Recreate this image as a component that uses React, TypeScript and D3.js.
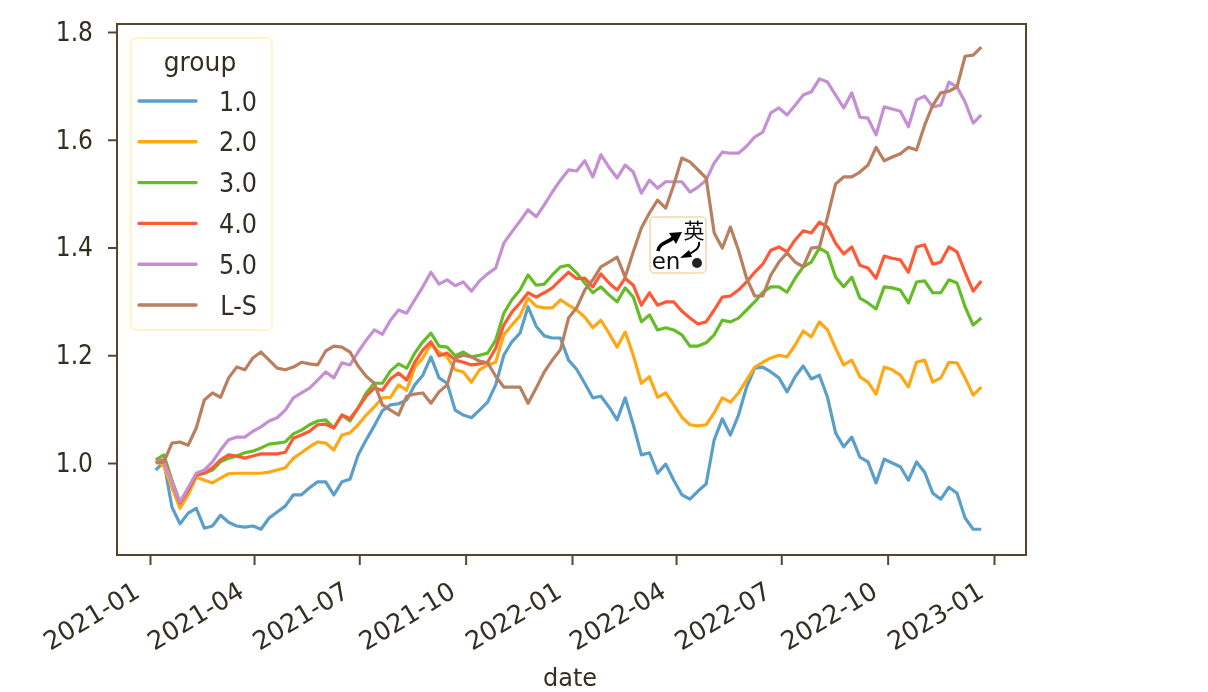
import * as d3 from "d3";
import React, { useEffect, useRef } from "react";

const group1 = [
  0.987, 1.002, 0.918, 0.887, 0.907, 0.916, 0.879, 0.883, 0.903, 0.89,
  0.883, 0.881, 0.883, 0.877, 0.898, 0.909, 0.92, 0.941, 0.941, 0.954,
  0.965, 0.965, 0.941, 0.965, 0.97, 1.015, 1.043, 1.069, 1.097, 1.108,
  1.11, 1.117, 1.145, 1.163, 1.197, 1.158, 1.148, 1.098, 1.089, 1.084,
  1.098, 1.113, 1.145, 1.2, 1.225, 1.241, 1.29, 1.254, 1.236, 1.232,
  1.232, 1.191, 1.174, 1.148, 1.121, 1.124, 1.104, 1.08, 1.121, 1.071,
  1.015, 1.019, 0.981, 0.998, 0.968, 0.941, 0.933, 0.948, 0.961, 1.043,
  1.082, 1.052, 1.089, 1.141, 1.176, 1.178, 1.169, 1.158, 1.132, 1.16,
  1.18, 1.156, 1.163, 1.122, 1.056, 1.03, 1.048, 1.011, 1.002, 0.963,
  1.007, 1.0, 0.993, 0.968, 1.002, 0.983, 0.944, 0.933, 0.955, 0.944,
  0.898, 0.877, 0.877,
];
const group2 = [
  1.004, 0.994, 0.954, 0.916, 0.941, 0.974, 0.968, 0.963, 0.972, 0.98,
  0.981, 0.981, 0.981, 0.981, 0.983, 0.987, 0.991, 1.009, 1.019, 1.03,
  1.039, 1.037, 1.024, 1.052, 1.056, 1.071, 1.089, 1.104, 1.121, 1.122,
  1.145, 1.135, 1.178, 1.195, 1.221, 1.206, 1.197, 1.173, 1.169, 1.15,
  1.173, 1.182, 1.187, 1.238, 1.256, 1.273, 1.306, 1.291, 1.288, 1.288,
  1.303, 1.293, 1.284, 1.271, 1.251, 1.265, 1.241, 1.215, 1.243, 1.2,
  1.148, 1.16, 1.122, 1.13, 1.108, 1.085, 1.071, 1.069, 1.071, 1.093,
  1.121, 1.113, 1.13, 1.154, 1.178, 1.187, 1.195, 1.2, 1.197, 1.219,
  1.245, 1.234, 1.262, 1.247, 1.213, 1.182, 1.191, 1.16, 1.15, 1.128,
  1.178, 1.173, 1.163, 1.141, 1.187, 1.191, 1.15, 1.158, 1.187, 1.186,
  1.158, 1.126, 1.141,
];
const group3 = [
  1.006, 1.015, 0.968, 0.926, 0.95, 0.978, 0.981, 0.987, 1.002, 1.009,
  1.013, 1.019, 1.022, 1.028, 1.035, 1.037, 1.039, 1.054, 1.061, 1.071,
  1.078, 1.08, 1.065, 1.089, 1.078, 1.102, 1.13, 1.148, 1.148, 1.171,
  1.184, 1.176, 1.204, 1.225, 1.241, 1.217, 1.215, 1.199, 1.206, 1.197,
  1.2, 1.204, 1.228, 1.278, 1.303, 1.321, 1.349, 1.33, 1.332, 1.349,
  1.364, 1.367, 1.353, 1.334, 1.316, 1.327, 1.312, 1.299, 1.325, 1.308,
  1.262, 1.275, 1.247, 1.251, 1.247, 1.238, 1.217, 1.217, 1.223, 1.238,
  1.265, 1.262, 1.269, 1.284, 1.299, 1.317, 1.327, 1.327, 1.317, 1.343,
  1.364, 1.373, 1.399, 1.39, 1.345, 1.327, 1.345, 1.306, 1.297, 1.286,
  1.327, 1.325, 1.321, 1.297, 1.336, 1.338, 1.316, 1.316, 1.34, 1.334,
  1.29, 1.256, 1.269,
];
const group4 = [
  1.002, 1.006, 0.965, 0.926, 0.95, 0.978, 0.981, 0.991, 1.006, 1.015,
  1.013, 1.009, 1.013, 1.017, 1.017, 1.017, 1.02, 1.046, 1.052, 1.059,
  1.071, 1.072, 1.065, 1.089, 1.082, 1.102, 1.124, 1.139, 1.135, 1.156,
  1.167, 1.154, 1.187, 1.21, 1.225, 1.199, 1.204, 1.191, 1.187, 1.182,
  1.184, 1.187, 1.213, 1.256, 1.28, 1.297, 1.316, 1.308, 1.316, 1.325,
  1.34, 1.354, 1.342, 1.343, 1.327, 1.351, 1.334, 1.321, 1.343, 1.33,
  1.293, 1.316, 1.293, 1.299, 1.299, 1.282, 1.269, 1.258, 1.262, 1.284,
  1.308, 1.31, 1.321, 1.336, 1.354, 1.369, 1.395, 1.401, 1.392, 1.414,
  1.431, 1.427, 1.447, 1.438, 1.408, 1.388, 1.401, 1.367, 1.362, 1.343,
  1.384, 1.38, 1.377, 1.354, 1.401, 1.405, 1.369, 1.373, 1.401, 1.392,
  1.354, 1.319, 1.338,
];
const group5 = [
  1.002, 1.002, 0.965, 0.928, 0.954, 0.981, 0.987, 1.002, 1.024, 1.043,
  1.048, 1.048, 1.059, 1.067, 1.078, 1.084, 1.098, 1.121, 1.13, 1.139,
  1.154, 1.169, 1.158, 1.186, 1.182, 1.206, 1.228, 1.247, 1.239, 1.265,
  1.284, 1.278, 1.303, 1.327, 1.354, 1.332, 1.34, 1.329, 1.336, 1.319,
  1.338, 1.351, 1.362, 1.408, 1.429, 1.449, 1.47, 1.457, 1.479, 1.503,
  1.525, 1.544, 1.542, 1.561, 1.531, 1.572, 1.549, 1.529, 1.553, 1.54,
  1.501, 1.525, 1.51, 1.522, 1.522, 1.522, 1.503, 1.512, 1.525, 1.557,
  1.577, 1.575, 1.575, 1.588, 1.605, 1.614, 1.65, 1.659, 1.646, 1.664,
  1.683, 1.689, 1.713, 1.707, 1.683, 1.659, 1.687, 1.642, 1.64, 1.609,
  1.661, 1.657, 1.653, 1.624, 1.674, 1.681, 1.661, 1.664, 1.707, 1.698,
  1.67, 1.631, 1.646,
];
const groupLS = [
  1.0, 1.002, 1.037, 1.039, 1.033, 1.065, 1.117, 1.13, 1.122, 1.158,
  1.178, 1.173, 1.195, 1.206, 1.191, 1.176, 1.173, 1.178, 1.187, 1.184,
  1.182, 1.208, 1.217, 1.215, 1.206, 1.18, 1.161, 1.148, 1.108, 1.098,
  1.089, 1.124, 1.128, 1.13, 1.111, 1.132, 1.145, 1.195, 1.2, 1.197,
  1.189, 1.186, 1.161, 1.141, 1.141, 1.141, 1.111, 1.139, 1.169, 1.191,
  1.21, 1.269, 1.288, 1.321, 1.34, 1.364, 1.373, 1.382, 1.345, 1.392,
  1.436, 1.464, 1.488, 1.473, 1.516, 1.566, 1.559, 1.544, 1.529, 1.427,
  1.399, 1.438, 1.395, 1.343, 1.31, 1.31, 1.349, 1.373, 1.39, 1.373,
  1.364, 1.399, 1.401, 1.457, 1.518, 1.531, 1.531, 1.54, 1.553, 1.586,
  1.561, 1.568, 1.574, 1.586, 1.581, 1.627, 1.664, 1.687, 1.69, 1.698,
  1.755, 1.757, 1.772,
];

const seriesNames = ["1.0", "2.0", "3.0", "4.0", "5.0", "L-S"];
const seriesColors = ["#5a9fca", "#ffa813", "#66bc27", "#ff5a36", "#c58fd3", "#b97f5e"];
const seriesValues = [group1, group2, group3, group4, group5, groupLS];

const yTicks = [1.0, 1.2, 1.4, 1.6, 1.8];
const xTickLabels = [
  "2021-01", "2021-04", "2021-07", "2021-10", "2022-01",
  "2022-04", "2022-07", "2022-10", "2023-01",
];

const firstDate = new Date(2021, 0, 6);
const TEXT = "#332f20";
const FRAME = "#54472f";
const FONT = "'DejaVu Sans', sans-serif";

const App: React.FC = () => {
  const svgRef = useRef<SVGSVGElement>(null);

  useEffect(() => {
    const svg = d3.select(svgRef.current);
    svg.selectAll("*").remove();

    const x = d3
      .scaleTime()
      .domain([new Date(2021, 0, 1), new Date(2023, 0, 1)])
      .range([150, 994]);
    const y = d3.scaleLinear().domain([1, 1.8]).range([463, 32]);

    svg
      .append("defs")
      .append("filter")
      .attr("id", "soft")
      .attr("x", 0)
      .attr("y", 0)
      .attr("width", 1)
      .attr("height", 1)
      .append("feGaussianBlur")
      .attr("stdDeviation", 0.7);

    const root = svg.append("g").attr("filter", "url(#soft)");
    root.append("rect").attr("width", 1208).attr("height", 692).attr("fill", "white");

    root
      .append("rect")
      .attr("x", 117)
      .attr("y", 24)
      .attr("width", 909)
      .attr("height", 531)
      .attr("fill", "none")
      .attr("stroke", FRAME)
      .attr("stroke-width", 2);

    const line = d3
      .line<number>()
      .x((_, i) => x(d3.timeDay.offset(firstDate, i * 7)))
      .y((d) => y(d));

    seriesValues.forEach((values, i) => {
      root
        .append("path")
        .attr("d", line(values))
        .attr("fill", "none")
        .attr("stroke", seriesColors[i])
        .attr("stroke-width", 3.2)
        .attr("stroke-linejoin", "round");
    });

    const xAxis = d3
      .axisBottom(x)
      .tickValues(xTickLabels.map((s) => d3.timeParse("%Y-%m")(s) as Date))
      .tickFormat((d) => d3.timeFormat("%Y-%m")(d as Date))
      .tickSize(10);
    const xG = root.append("g").attr("transform", "translate(0,555)").call(xAxis);
    xG.select(".domain").remove();
    xG.selectAll("line").attr("stroke", FRAME).attr("stroke-width", 2);
    xG.selectAll("text")
      .attr("fill", TEXT)
      .attr("font-family", FONT)
      .attr("font-size", 25.5)
      .attr("text-anchor", "end")
      .attr("dy", 0)
      .attr("y", 0)
      .attr("transform", "translate(-9,41) rotate(-31)");

    const yAxis = d3
      .axisLeft(y)
      .tickValues(yTicks)
      .tickFormat((d) => d3.format(".1f")(d as number))
      .tickSize(9);
    const yG = root.append("g").attr("transform", "translate(117,0)").call(yAxis);
    yG.select(".domain").remove();
    yG.selectAll("line").attr("stroke", FRAME).attr("stroke-width", 2);
    yG.selectAll("text")
      .attr("fill", TEXT)
      .attr("font-family", FONT)
      .attr("font-size", 26)
      .attr("x", 0)
      .attr("transform", "translate(-24,0) scale(0.9,1)");

    root
      .append("text")
      .attr("x", 570)
      .attr("y", 686)
      .attr("text-anchor", "middle")
      .attr("fill", TEXT)
      .attr("font-family", FONT)
      .attr("font-size", 24)
      .text("date");

    // legend
    const legend = root.append("g");
    legend
      .append("rect")
      .attr("x", 131)
      .attr("y", 38)
      .attr("width", 141)
      .attr("height", 292)
      .attr("rx", 5)
      .attr("fill", "white")
      .attr("stroke", "#fff2b8")
      .attr("stroke-width", 1.5);
    legend
      .append("text")
      .attr("x", 0)
      .attr("y", 0)
      .attr("transform", "translate(200,71) scale(0.96,1)")
      .attr("text-anchor", "middle")
      .attr("fill", TEXT)
      .attr("font-family", FONT)
      .attr("font-size", 26)
      .text("group");
    const rowY = d3.scaleLinear().domain([0, 5]).range([101, 305]);
    seriesNames.forEach((name, i) => {
      legend
        .append("line")
        .attr("x1", 139)
        .attr("x2", 196)
        .attr("y1", rowY(i))
        .attr("y2", rowY(i))
        .attr("stroke", seriesColors[i])
        .attr("stroke-width", 3.4)
        .attr("stroke-linecap", "round");
      legend
        .append("text")
        .attr("x", 0)
        .attr("y", 0)
        .attr("transform", `translate(257,${rowY(i) + 9.5}) scale(0.92,1)`)
        .attr("text-anchor", "end")
        .attr("fill", TEXT)
        .attr("font-family", FONT)
        .attr("font-size", 26)
        .text(name);
    });

    // input method badge sitting on top of the chart
    const badge = root.append("g");
    badge
      .append("rect")
      .attr("x", 650)
      .attr("y", 217)
      .attr("width", 56)
      .attr("height", 56)
      .attr("rx", 4)
      .attr("fill", "white")
      .attr("stroke", "#f3d9b0")
      .attr("stroke-width", 1.5);
    badge
      .append("text")
      .attr("x", 694)
      .attr("y", 238)
      .attr("text-anchor", "middle")
      .attr("fill", "#111")
      .attr("font-family", "'Noto Sans CJK SC'")
      .attr("font-size", 21)
      .text("英");
    badge
      .append("text")
      .attr("x", 666)
      .attr("y", 269)
      .attr("text-anchor", "middle")
      .attr("fill", "#111")
      .attr("font-family", FONT)
      .attr("font-size", 23)
      .text("en");
    badge
      .append("path")
      .attr("d", "M658 251 C659 243 667 243 673 238")
      .attr("fill", "none")
      .attr("stroke", "#000")
      .attr("stroke-width", 3.6);
    badge.append("path").attr("d", "M682 232 L669 233 L676 244 Z").attr("fill", "#000");
    badge
      .append("path")
      .attr("d", "M699 242 C700 249 694 251 688 255")
      .attr("fill", "none")
      .attr("stroke", "#000")
      .attr("stroke-width", 2);
    badge.append("path").attr("d", "M680 258 L689 250 L692 257 Z").attr("fill", "#000");
    badge.append("circle").attr("cx", 697).attr("cy", 263).attr("r", 5).attr("fill", "#222");
  }, []);

  return (
    <svg
      ref={svgRef}
      width={1208}
      height={692}
      style={{ position: "absolute", left: 0, top: 0, display: "block", background: "white" }}
    />
  );
};

export default App;
